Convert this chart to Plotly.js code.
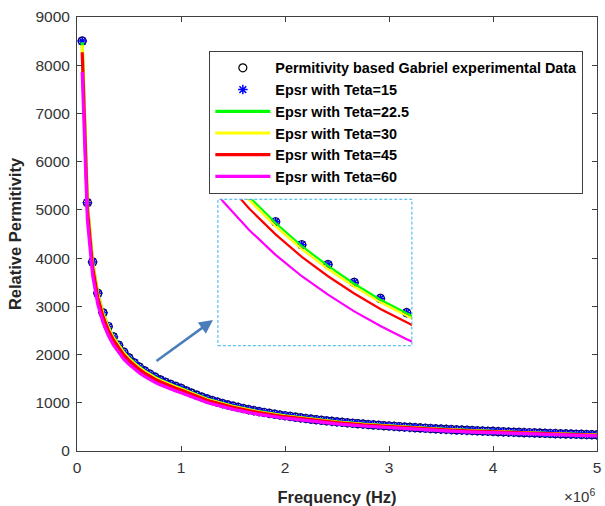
<!DOCTYPE html>
<html>
<head>
<meta charset="utf-8">
<script src="https://cdn.plot.ly/plotly-3.0.1.min.js"></script>
<style>html,body{margin:0;padding:0;background:#fff;}#chart{width:605px;height:506px;}</style>
</head>
<body>
<div id="chart"></div>
<script>
// Frequencies of the measured points (kHz)
const freqKHz = [50,100,150,200,250,300,350,400,450,500,550,600,650,700,750,800,850,900,950,1000,
1050,1100,1150,1200,1250,1300,1350,1400,1450,1500,1550,1600,1650,1700,1750,1800,1850,1900,1950,2000,
2050,2100,2150,2200,2250,2300,2350,2400,2450,2500,2550,2600,2650,2700,2750,2800,2850,2900,2950,3000,
3050,3100,3150,3200,3250,3300,3350,3400,3450,3500,3550,3600,3650,3700,3750,3800,3850,3900,3950,4000,
4050,4100,4150,4200,4250,4300,4350,4400,4450,4500,4550,4600,4650,4700,4750,4800,4850,4900,4950,5000];
// Gabriel experimental permittivity (also Teta=15 model, identical)
const gabriel = [8500,5150,3920,3270,2865,2582,2365,2192,2049,1930,1828,1739,1662,1593,1531,1476,1426,1380,1339,1300,
1248,1201,1157,1118,1080,1046,1013,983,955,929,904,880,858,837,817,798,780,763,747,731,
716,701,687,674,661,649,637,626,615,605,595,585,575,566,558,549,541,533,525,518,
511,504,497,490,484,478,472,466,460,454,449,444,438,433,428,424,419,414,410,406,
401,397,393,389,385,381,378,374,370,367,363,360,357,354,350,347,344,341,338,335];
const teta15 = gabriel.slice();
// Model curves frequencies (kHz)
const lineKHz = [50,100,150,200,250,300,350,400,450,500,550,600,650,700,750,800,850,900,950,1000,
1250,1500,1750,2000,2250,2500,2750,3000,3250,3500,3750,4000,4250,4500,4750,5000];
const teta22_5 = [8475,5135,3908,3260,2856,2574,2358,2185,2043,1924,1823,1734,1657,1588,1526,1472,1422,1376,1335,1296,
1077,926,815,729,659,603,556,516,483,453,427,405,384,366,349,334];
const teta30 = [8415,5099,3881,3237,2836,2556,2341,2170,2029,1911,1810,1722,1645,1577,1516,1461,1412,1366,1326,1287,
1069,920,809,724,654,599,552,513,479,449,424,402,381,363,347,332];
const teta45 = [8270,5011,3814,3182,2788,2512,2301,2133,1994,1878,1779,1692,1617,1550,1490,1436,1387,1343,1303,1265,
1051,904,795,711,643,589,543,504,471,442,416,395,375,357,341,326];
const teta60 = [7860,4790,3646,3041,2664,2401,2199,2039,1906,1795,1700,1617,1546,1481,1424,1373,1326,1283,1245,1209,
1004,864,760,680,615,563,519,482,450,422,398,378,358,341,326,312];
const xTickVals = [0,1e6,2e6,3e6,4e6,5e6];
const xTickText = ['0','1','2','3','4','5'];
const yTickVals = [0,1000,2000,3000,4000,5000,6000,7000,8000,9000];

const fHz = freqKHz.map(v => v*1000);
const lHz = lineKHz.map(v => v*1000);

const lineSeries = [
  {name:'Epsr with Teta=22.5', y:teta22_5, color:'#00ff00'},
  {name:'Epsr with Teta=30', y:teta30, color:'#ffff00'},
  {name:'Epsr with Teta=45', y:teta45, color:'#ff0000'},
  {name:'Epsr with Teta=60', y:teta60, color:'#ff00ff'}
];

const traces = [];
function addSet(xa, ya, main){
  traces.push({x:fHz, y:gabriel, xaxis:xa, yaxis:ya, type:'scatter', mode:'markers',
    name:'Permitivity based Gabriel experimental Data', showlegend:main,
    marker:{symbol:'circle-open', size:8, color:'#000000', line:{width:1.2, color:'#000000'}}});
  traces.push({x:fHz, y:teta15, xaxis:xa, yaxis:ya, type:'scatter', mode:'markers',
    name:'Epsr with Teta=15', showlegend:main,
    marker:{symbol:'asterisk-open', size:8, color:'#0000ff', line:{width:1.5, color:'#0000ff'}}});
  lineSeries.forEach(s => traces.push({x:lHz, y:s.y, xaxis:xa, yaxis:ya, type:'scatter', mode:'lines',
    name:s.name, showlegend:main, line:{color:s.color, width: main?3.2:2.2}}));
}
addSet('x','y',true);
addSet('x2','y2',false);

const axisCommon = {showgrid:false, zeroline:false, showline:true, linecolor:'#404040', linewidth:1,
  mirror:'ticks', ticks:'inside', ticklen:5, tickcolor:'#404040',
  tickfont:{family:'Liberation Sans, Arial, sans-serif', size:15.5, color:'#333333'}};

const layout = {
  width:605, height:506,
  margin:{l:77, r:8, t:17, b:55},
  paper_bgcolor:'#ffffff', plot_bgcolor:'#ffffff',
  font:{family:'Liberation Sans, Arial, sans-serif'},
  xaxis: Object.assign({}, axisCommon, {range:[0,5e6], tickvals:xTickVals, ticktext:xTickText,
    ticklabelstandoff:2,
    title:{text:'<b>Frequency (Hz)</b>', font:{size:16.5, color:'#262626'}, standoff:16}}),
  yaxis: Object.assign({}, axisCommon, {range:[0,9000], tickvals:yTickVals, ticklabelstandoff:3,
    title:{text:'<b>Relative Permitivity</b>', font:{size:16.5, color:'#262626'}, standoff:9}}),
  xaxis2:{domain:[0.271,0.644], anchor:'y2', range:[440000,810000], visible:false},
  yaxis2:{domain:[0.2426,0.58], anchor:'x2', range:[1348,1915], visible:false},
  showlegend:true,
  legend:{x:0.2545, y:0.9217, xanchor:'left', yanchor:'top', bgcolor:'#ffffff',
    bordercolor:'#404040', borderwidth:1, tracegroupgap:0, itemwidth:55,
    font:{family:'Liberation Sans, Arial, sans-serif', size:14.4, color:'#000000', weight:'bold'}},
  shapes:[{type:'rect', xref:'paper', yref:'paper', x0:0.271, x1:0.644, y0:0.2426, y1:0.58,
    line:{color:'#33b5ee', width:1, dash:'3px,2px'}}],
  annotations:[
    {xref:'paper', yref:'paper', x:0.2615, y:0.3018, text:'', showarrow:true, ax:-58, ay:42,
      arrowhead:2, arrowsize:1.1, arrowwidth:2.5, arrowcolor:'#4a7ebb'},
    {xref:'paper', yref:'paper', x:1.0, y:-0.103, xanchor:'right', yanchor:'middle', showarrow:false,
      text:'×10<sup>6</sup>', font:{size:15, color:'#333333'}}
  ]
};
Plotly.newPlot('chart', traces, layout, {displayModeBar:false, staticPlot:true});
</script>
</body>
</html>
